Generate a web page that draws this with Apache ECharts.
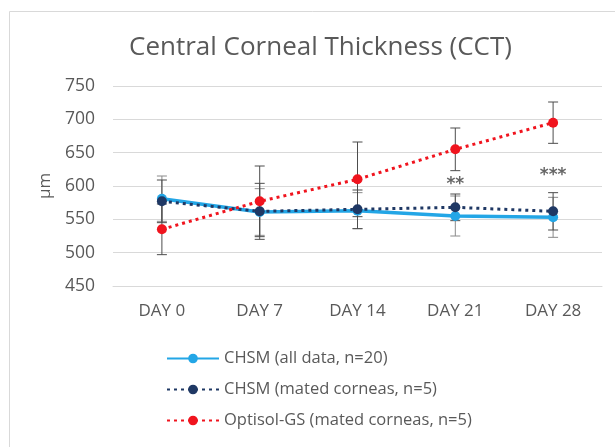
<!DOCTYPE html>
<html>
<head>
<meta charset="utf-8">
<script src="https://cdn.jsdelivr.net/npm/echarts@6/dist/echarts.min.js"></script>
<style>
  html, body { margin: 0; padding: 0; background: #fff; }
  #chart { width: 615px; height: 447px; }
</style>
</head>
<body>
<div id="chart"></div>
<script>
// 数据
const days = ['DAY 0', 'DAY 7', 'DAY 14', 'DAY 21', 'DAY 28'];
const yTicks = { min: 450, max: 750, step: 50 };

const chsmAll = [581, 561, 563, 555, 553];
const chsmAllErr = [34, 35, 27, 30, 30];

const chsmMated = [577, 562, 565, 568, 562];
const chsmMatedErr = [32, 42, 29, 20, 28];

const optisol = [535, 577, 610, 655, 695];
const optisolErr = [38, 53, 56, 32, 31];

const starDays = ['DAY 21', 'DAY 28'];
const starValues = [602, 616];
const starTexts = ['**', '***'];

const COLORS = {
  all: '#23a6e6',
  mated: '#1f3864',
  optisol: '#f0141e',
  text: '#595959',
  grid: '#d9d9d9',
  err: '#4d4d4d',
};

const FONT = 'Open Sans';

// 误差线（自定义系列）
function errorSeries(values, errs, color) {
  return {
    type: 'custom',
    silent: true,
    z: 1,
    data: values.map((v, i) => [i, v - errs[i], v + errs[i]]),
    renderItem: (params, api) => {
      const lo = api.coord([api.value(0), api.value(1)]);
      const hi = api.coord([api.value(0), api.value(2)]);
      const w = 5;
      const style = { stroke: color, lineWidth: 1 };
      return {
        type: 'group',
        children: [
          { type: 'line', shape: { x1: hi[0], y1: hi[1], x2: lo[0], y2: lo[1] }, style },
          { type: 'line', shape: { x1: hi[0] - w, y1: hi[1], x2: hi[0] + w, y2: hi[1] }, style },
          { type: 'line', shape: { x1: lo[0] - w, y1: lo[1], x2: lo[0] + w, y2: lo[1] }, style },
        ],
      };
    },
  };
}

function lineSeries(name, values, color, dotted) {
  return {
    name, type: 'line', data: values,
    symbol: 'circle', symbolSize: 10,
    z: 3,
    lineStyle: { color, width: dotted ? 3 : 3.5, type: dotted ? [3, 4] : 'solid' },
    itemStyle: { color },
  };
}

const chart = echarts.init(document.getElementById('chart'));
const option = {
  animation: false,
  textStyle: { fontFamily: FONT },
  graphic: [{
    type: 'rect',
    shape: { x: 9.5, y: 11.5, width: 700, height: 500 },
    style: { fill: 'none', stroke: COLORS.grid, lineWidth: 1 },
  }],
  title: {
    text: 'Central Corneal Thickness (CCT)',
    left: 124, top: 30,
    textStyle: { fontFamily: FONT, fontSize: 26, fontWeight: 'normal', color: COLORS.text },
  },
  legend: {
    orient: 'vertical',
    left: 161, top: 345,
    itemWidth: 52, itemHeight: 12, itemGap: 14,
    data: ['CHSM (all data, n=20)', 'CHSM (mated corneas, n=5)', 'Optisol-GS (mated corneas, n=5)'],
    textStyle: { fontFamily: FONT, fontSize: 16.5, color: COLORS.text },
  },
  grid: { left: 113, right: 13, top: 86, bottom: 161 },
  xAxis: {
    type: 'category', data: days,
    axisLine: { lineStyle: { color: COLORS.grid } },
    axisTick: { show: false },
    axisLabel: { color: COLORS.text, fontSize: 17, margin: 17 },
  },
  yAxis: {
    type: 'value',
    min: yTicks.min, max: yTicks.max, interval: yTicks.step,
    name: 'µm', nameLocation: 'middle', nameGap: 50, nameRotate: 90,
    nameTextStyle: { color: COLORS.text, fontSize: 17 },
    axisLine: { show: false },
    axisTick: { show: false },
    axisLabel: { color: COLORS.text, fontSize: 17.5, margin: 18 },
    splitLine: { lineStyle: { color: COLORS.grid } },
  },
  series: [
    errorSeries(chsmAll, chsmAllErr, '#8a8a8a'),
    errorSeries(chsmMated, chsmMatedErr, COLORS.err),
    errorSeries(optisol, optisolErr, COLORS.err),
    lineSeries('CHSM (all data, n=20)', chsmAll, COLORS.all, false),
    lineSeries('CHSM (mated corneas, n=5)', chsmMated, COLORS.mated, true),
    lineSeries('Optisol-GS (mated corneas, n=5)', optisol, COLORS.optisol, true),
    {
      type: 'scatter', silent: true, symbolSize: 1,
      itemStyle: { color: 'rgba(0,0,0,0)' },
      data: starDays.map((d, i) => ({ value: [d, starValues[i]], text: starTexts[i] })),
      label: {
        show: true, position: 'inside',
        formatter: p => p.data.text,
        color: '#404040', fontSize: 17, fontWeight: 'bold', fontFamily: 'DejaVu Sans',
      },
    },
  ],
};
chart.setOption(option);
window.addEventListener('resize', () => chart.resize());
</script>
</body>
</html>
